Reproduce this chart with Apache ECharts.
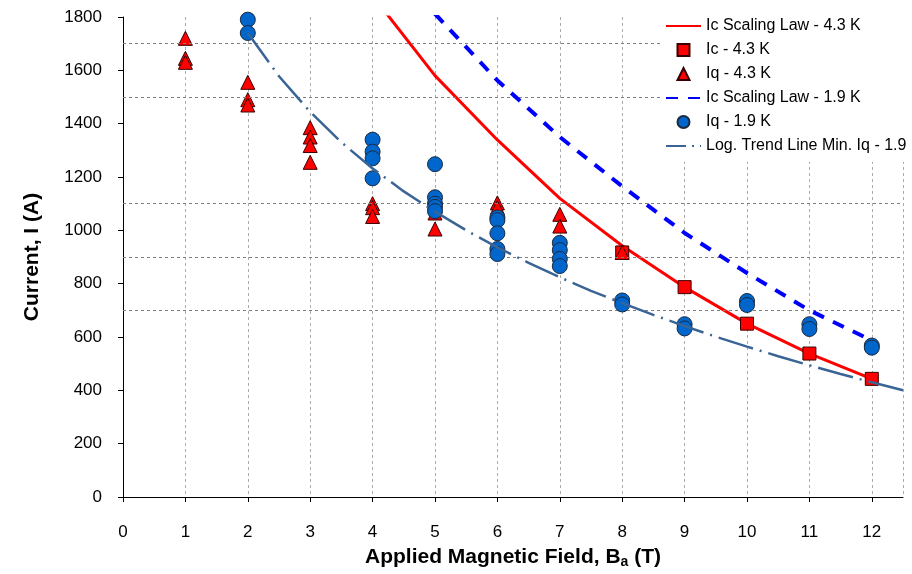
<!DOCTYPE html>
<html>
<head>
<meta charset="utf-8">
<script src="https://cdn.jsdelivr.net/npm/echarts@6/dist/echarts.min.js"></script>
<style>
  html, body { margin: 0; padding: 0; background: #ffffff; }
  #chart { width: 912px; height: 574px; }
</style>
</head>
<body>
<div id="chart"></div>
<script>
// Ic scaling law at 4.3 K
const lawFields43 = [4, 5, 6, 7, 8, 9, 10, 11, 12];
const lawCurrent43 = [1880, 1580, 1339, 1120, 942, 787, 650, 538, 443];

// Measured critical current at 4.3 K
const icFields43 = [8, 9, 10, 11, 12];
const icCurrent43 = [917, 787, 650, 538, 443];

// Quench currents at 4.3 K
const iqFields43 = [1, 1, 1, 2, 2, 2, 3, 3, 3, 3, 4, 4, 4, 5, 5, 6, 6, 7, 7, 8];
const iqCurrent43 = [1720, 1645, 1630, 1555, 1490, 1470, 1385, 1350, 1318, 1255,
                     1100, 1085, 1052, 1065, 1005, 1103, 1086, 1060, 1016, 917];

// Ic scaling law at 1.9 K
const lawFields19 = [5, 6, 7, 8, 9, 10, 11, 12];
const lawCurrent19 = [1812, 1562, 1350, 1165, 990, 840, 700, 587];

// Quench currents at 1.9 K
const iqFields19 = [2, 2, 4, 4, 4, 4, 5, 5, 5, 5, 5, 6, 6, 6, 6, 6, 7, 7, 7, 7,
                    8, 8, 9, 9, 10, 10, 11, 11, 12, 12];
const iqCurrent19 = [1790, 1740, 1340, 1295, 1270, 1195, 1248, 1124, 1100, 1088, 1072,
                     1048, 1038, 989, 930, 911, 953, 926, 893, 866,
                     737, 722, 648, 632, 735, 720, 648, 630, 568, 560];

// Logarithmic trend line through the minimum quench currents at 1.9 K
const trendFields = [2, 2.5, 3, 3.5, 4, 4.5, 5, 5.5, 6, 6.5, 7, 7.5, 8, 8.5, 9, 9.5,
                     10, 10.5, 11, 11.5, 12, 12.5];
const trendCurrent = [1740, 1578, 1444, 1330, 1232, 1146, 1070, 1000, 936, 878, 824,
                      773, 727, 683, 641, 601, 564, 528, 494, 461, 430, 400];

// Dashed horizontal reference levels
const refLevels = [700, 900, 1100, 1500, 1700];

const xTicks = [0, 1, 2, 3, 4, 5, 6, 7, 8, 9, 10, 11, 12];

const pairs = (xs, ys) => xs.map((x, i) => [x, ys[i]]);

const FONT = '"Liberation Sans", Arial, sans-serif';

// legend symbols that keep a square aspect inside the wide legend slot
const SQUARE_ICON = 'path://M0,0L10,0L10,10L0,10Z';
const TRIANGLE_ICON = 'path://M5,0L10,10L0,10Z';

const chart = echarts.init(document.getElementById('chart'), null, { renderer: 'canvas' });

chart.setOption({
  animation: false,
  backgroundColor: '#ffffff',
  textStyle: { fontFamily: FONT },
  grid: { left: 123, right: 9, top: 17, bottom: 71, containLabel: false },
  legend: {
    orient: 'vertical',
    left: 660,
    top: 10,
    z: 20,
    itemWidth: 35,
    itemHeight: 12,
    itemGap: 8,
    symbolKeepAspect: true,
    padding: [8, 10, 8, 5],
    backgroundColor: '#ffffff',
    textStyle: { fontSize: 16, color: '#000', fontFamily: FONT },
    data: [
      { name: 'Ic Scaling Law - 4.3 K', itemStyle: { opacity: 0 } },
      { name: 'Ic - 4.3 K', icon: SQUARE_ICON },
      { name: 'Iq - 4.3 K', icon: TRIANGLE_ICON },
      { name: 'Ic Scaling Law - 1.9 K', itemStyle: { opacity: 0 } },
      { name: 'Iq - 1.9 K', icon: 'circle' },
      { name: 'Log. Trend Line Min. Iq - 1.9 K', itemStyle: { opacity: 0 },
        lineStyle: { type: [20, 6, 2, 6] } }
    ]
  },
  xAxis: {
    type: 'value',
    min: 0,
    max: 12.5,
    interval: 1,
    name: 'Applied Magnetic Field, B{sub|a} (T)',
    nameLocation: 'middle',
    nameGap: 49,
    nameTextStyle: {
      fontSize: 21, fontWeight: 'bold', color: '#000', fontFamily: FONT,
      rich: {
        sub: { fontSize: 14, fontWeight: 'bold', verticalAlign: 'bottom', padding: [9, 0, 0, 0], fontFamily: FONT }
      }
    },
    axisLine: { onZero: false, lineStyle: { color: '#000', width: 1 } },
    axisTick: { show: true, inside: false, length: 5, lineStyle: { color: '#000' } },
    axisLabel: {
      margin: 27, fontSize: 17, color: '#000', fontFamily: FONT,
      showMaxLabel: false,
      formatter: v => (xTicks.indexOf(v) >= 0 ? String(v) : '')
    },
    splitLine: { show: true, lineStyle: { color: '#acacac', type: [3, 3], width: 1 } }
  },
  yAxis: {
    type: 'value',
    min: 0,
    max: 1800,
    interval: 200,
    name: 'Current, I (A)',
    nameLocation: 'middle',
    nameGap: 80,
    nameTextStyle: { fontSize: 21, fontWeight: 'bold', color: '#000', fontFamily: FONT },
    axisLine: { show: true, lineStyle: { color: '#000', width: 1 } },
    axisTick: { show: true, inside: false, length: 5, lineStyle: { color: '#000' } },
    axisLabel: { margin: 21, fontSize: 17, color: '#000', fontFamily: FONT, formatter: v => String(v) },
    splitLine: { show: false }
  },
  series: [
    {
      name: 'Ic Scaling Law - 4.3 K',
      type: 'line',
      data: pairs(lawFields43, lawCurrent43),
      symbol: 'none',
      clip: true,
      lineStyle: { color: '#ff0000', width: 3 },
      itemStyle: { color: '#ff0000' },
      z: 2,
      markLine: {
        silent: true,
        symbol: ['none', 'none'],
        label: { show: false },
        lineStyle: { color: '#7f7f7f', type: [3, 3], width: 1 },
        data: refLevels.map(v => ({ yAxis: v }))
      }
    },
    {
      name: 'Ic - 4.3 K',
      type: 'scatter',
      data: pairs(icFields43, icCurrent43),
      symbol: 'rect',
      symbolSize: 13,
      itemStyle: { color: '#ff0000', borderColor: '#3a0000', borderWidth: 1, opacity: 1 },
      z: 3
    },
    {
      name: 'Iq - 4.3 K',
      type: 'scatter',
      data: pairs(iqFields43, iqCurrent43),
      symbol: 'triangle',
      symbolSize: 14,
      itemStyle: { color: '#ff0000', borderColor: '#3a0000', borderWidth: 1, opacity: 1 },
      z: 4
    },
    {
      name: 'Ic Scaling Law - 1.9 K',
      type: 'line',
      data: pairs(lawFields19, lawCurrent19),
      symbol: 'none',
      clip: true,
      lineStyle: { color: '#0000ff', width: 4, type: [12, 10] },
      itemStyle: { color: '#0000ff' },
      z: 5
    },
    {
      name: 'Iq - 1.9 K',
      type: 'scatter',
      data: pairs(iqFields19, iqCurrent19),
      symbol: 'circle',
      symbolSize: 15,
      itemStyle: { color: '#0066cc', borderColor: '#1a2a40', borderWidth: 1, opacity: 1 },
      z: 6
    },
    {
      name: 'Log. Trend Line Min. Iq - 1.9 K',
      type: 'line',
      data: pairs(trendFields, trendCurrent),
      symbol: 'none',
      smooth: false,
      clip: true,
      lineStyle: { color: '#3a6496', width: 2.5, type: [36, 7, 2, 7] },
      itemStyle: { color: '#3a6496' },
      z: 7
    }
  ]
});
</script>
</body>
</html>
